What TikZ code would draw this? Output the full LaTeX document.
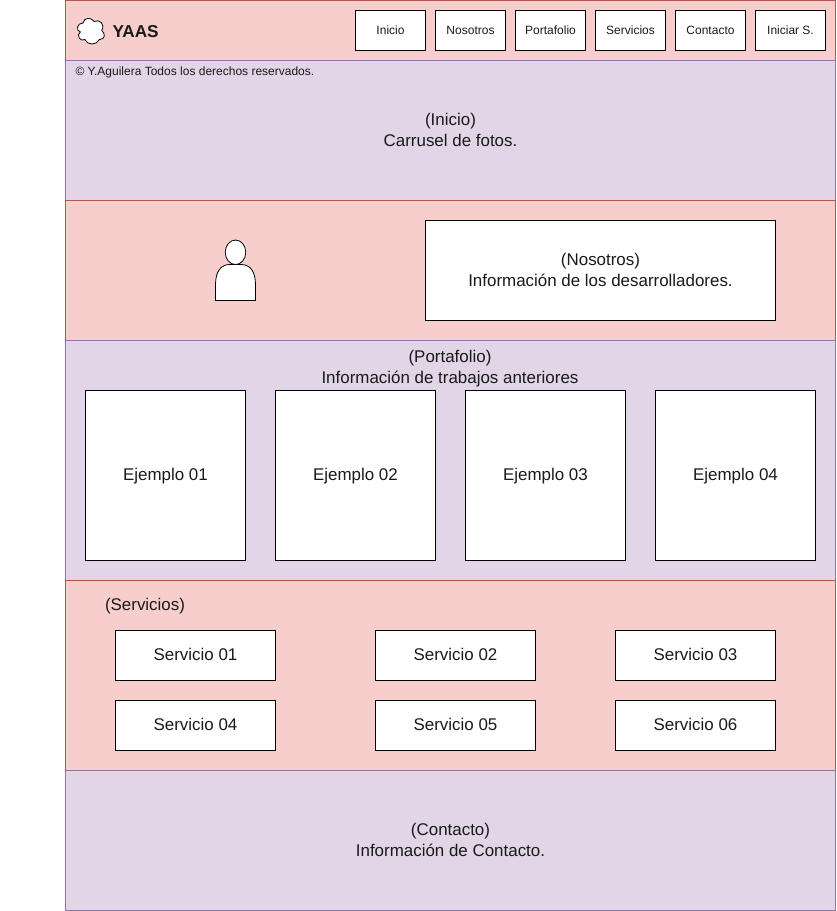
\documentclass[tikz,border=0pt]{standalone}
\usepackage{fontspec}
\setmainfont{Liberation Sans}
\usepackage{xcolor}
\definecolor{rosado}{HTML}{F8CECC}
\definecolor{rosadoBorde}{HTML}{B85450}
\definecolor{lila}{HTML}{E1D5E7}
\definecolor{lilaBorde}{HTML}{9673A6}
\definecolor{texto}{HTML}{1A1A1A}
\usetikzlibrary{shapes}
\tikzstyle{base} = [rectangle, inner sep=0pt, outer sep=0pt, text=texto, align=center, anchor=north west, font=\fontsize{12.7}{15.75}\selectfont, line width=0.6pt]
\tikzstyle{rojo} = [base, fill=rosado, draw=rosadoBorde, minimum width=577.5pt]
\tikzstyle{morado} = [base, fill=lila, draw=lilaBorde, minimum width=577.5pt, text depth=1.5pt]
\tikzstyle{boton} = [base, fill=white, draw=black, minimum width=52.5pt, minimum height=30pt, font=\fontsize{9}{11}\selectfont]
\tikzstyle{ejemplo} = [base, fill=white, draw=black, minimum width=120pt, minimum height=127.5pt, text height=10.6pt, text depth=2.7pt]
\tikzstyle{servicio} = [base, fill=white, draw=black, minimum width=120pt, minimum height=37.5pt, text height=9.1pt, text depth=1.5pt]
\tikzstyle{etiqueta} = [inner sep=0pt, outer sep=0pt, text=texto, align=center, font=\fontsize{12.7}{15.75}\selectfont]

\begin{document}
\begin{tikzpicture}[x=0.75pt, y=-0.75pt]

    \useasboundingbox (0,0) rectangle (836,911);

    \node (barra) [rojo, minimum height=45pt] at (65.5,0.5) {};
    \node (inicio) [morado, minimum height=105pt] at (65.5,60.5) {(Inicio)\\Carrusel de fotos.};
    \node (nosotros) [rojo, minimum height=105pt] at (65.5,200.5) {};
    \node (portafolio) [morado, minimum height=180pt] at (65.5,340.5) {};
    \node (servicios) [rojo, minimum height=142.5pt] at (65.5,580.5) {};
    \node (contacto) [morado, minimum height=105pt] at (65.5,770.5) {(Contacto)\\Información de Contacto.};

    % nube
    \draw[fill=white, draw=black, line width=0.6pt] (83,23) .. controls (77,23) and (75.5,30.5) .. (80.3,32) .. controls (75.5,35.3) and (80.9,42.5) .. (84.8,39.5) .. controls (87.5,45.5) and (96.5,45.5) .. (99.5,39.5) .. controls (105.5,39.5) and (105.5,33.5) .. (101.75,30.5) .. controls (105.5,24.5) and (99.5,18.5) .. (94.25,21.5) .. controls (90.5,17) and (84.5,17) .. (83,23) -- cycle;
    \node (marca) [etiqueta, anchor=west, font=\fontsize{12.9}{14}\selectfont\bfseries] at (112.5,31.7) {YAAS};
    \node (derechos) [etiqueta, anchor=west, font=\fontsize{9}{11}\selectfont] at (75.5,72) {© Y.Aguilera Todos los derechos reservados.};

    \node (btnInicio) [boton] at (355.5,10.5) {Inicio};
    \node (btnNosotros) [boton] at (435.5,10.5) {Nosotros};
    \node (btnPortafolio) [boton] at (515.5,10.5) {Portafolio};
    \node (btnServicios) [boton] at (595.5,10.5) {Servicios};
    \node (btnContacto) [boton] at (675.5,10.5) {Contacto};
    \node (btnIniciar) [boton] at (755.5,10.5) {Iniciar S.};

    % persona
    \draw[fill=white, draw=black, line width=0.6pt] (215.5,300.5) -- (215.5,285) .. controls (215.5,271) and (221,264.5) .. (230,264.5) -- (241,264.5) .. controls (250,264.5) and (255.5,271) .. (255.5,285) -- (255.5,300.5) -- cycle;
    \node (cabeza) [ellipse, draw=black, fill=white, line width=0.6pt, inner sep=0pt, outer sep=0pt, minimum width=15.4pt, minimum height=18.4pt] at (235.5,252.3) {};

    \node (infoNosotros) [base, fill=white, draw=black, minimum width=262.5pt, minimum height=75pt, text depth=1.5pt] at (425.5,220.5) {(Nosotros)\\Información de los desarrolladores.};

    \node (tituloPortafolio) [etiqueta] at (450,369) {(Portafolio)\\Información de trabajos anteriores};
    \node (ejemplo1) [ejemplo] at (85.5,390.5) {Ejemplo 01};
    \node (ejemplo2) [ejemplo] at (275.5,390.5) {Ejemplo 02};
    \node (ejemplo3) [ejemplo] at (465.5,390.5) {Ejemplo 03};
    \node (ejemplo4) [ejemplo] at (655.5,390.5) {Ejemplo 04};

    \node (tituloServicios) [etiqueta] at (145,606) {(Servicios)};
    \node (servicio1) [servicio] at (115.5,630.5) {Servicio 01};
    \node (servicio2) [servicio] at (375.5,630.5) {Servicio 02};
    \node (servicio3) [servicio] at (615.5,630.5) {Servicio 03};
    \node (servicio4) [servicio] at (115.5,700.5) {Servicio 04};
    \node (servicio5) [servicio] at (375.5,700.5) {Servicio 05};
    \node (servicio6) [servicio] at (615.5,700.5) {Servicio 06};

\end{tikzpicture}
\end{document}
